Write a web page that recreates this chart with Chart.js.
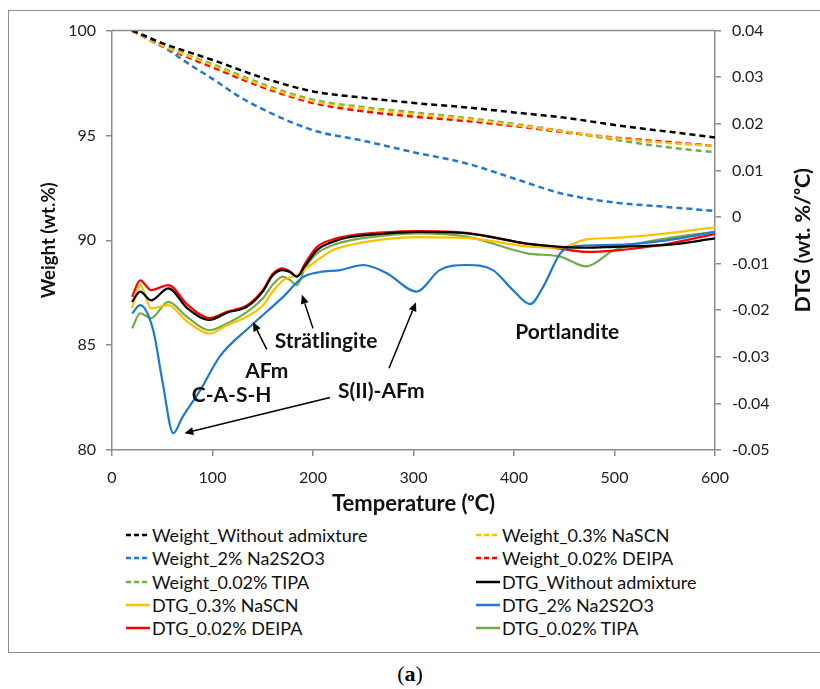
<!DOCTYPE html>
<html>
<head>
<meta charset="utf-8">
<script src="https://cdn.jsdelivr.net/npm/chart.js@4.4.0/dist/chart.umd.min.js"></script>
<style>
  body { margin: 0; background: #fff; width: 820px; height: 689px; overflow: hidden; font-family: Lato, sans-serif; }
  #frame { position: absolute; left: 8px; top: 10px; width: 830px; height: 643px; border: 1.5px solid #8c8c8c; box-sizing: border-box; }
  #wrap { position: absolute; left: 8px; top: 10px; width: 812px; height: 510px; }
  .item { position: absolute; height: 22px; display: flex; align-items: center; font-size: 18px; color: #111; white-space: nowrap; }
  .item svg { margin-right: 2px; }
  #cap { position: absolute; left: 0; top: 661px; width: 820px; text-align: center; font-family: "Liberation Serif", serif; font-size: 22px; }
</style>
</head>
<body>
<div id="frame"></div>
<div id="wrap"><canvas id="c" width="812" height="510"></canvas></div>
<div id="legend"></div>
<div id="cap">(<b>a</b>)</div>
<script>
// weight curves (left axis, wt.%)
const wTemp = [20, 50, 100, 150, 200, 250, 300, 350, 400, 450, 500, 550, 600];
const wNone = [100, 99.4, 98.6, 97.75, 97.1, 96.8, 96.55, 96.35, 96.1, 95.85, 95.5, 95.2, 94.9];
const wNascn = [100, 99.28, 98.35, 97.38, 96.63, 96.28, 96.02, 95.8, 95.5, 95.18, 94.87, 94.65, 94.5];
const wDeipa = [100, 99.25, 98.25, 97.3, 96.55, 96.15, 95.9, 95.7, 95.45, 95.15, 94.9, 94.7, 94.5];
const wTipa = [100, 99.3, 98.4, 97.45, 96.7, 96.35, 96.1, 95.85, 95.55, 95.2, 94.8, 94.45, 94.2];
const wTempNa2 = [20, 40, 60, 80, 100, 125, 150, 200, 250, 300, 350, 400, 425, 450, 500, 550, 600];
const wNa2 = [100, 99.6, 98.95, 98.3, 97.7, 96.9, 96.25, 95.25, 94.75, 94.2, 93.7, 92.95, 92.55, 92.2, 91.8, 91.6, 91.4];

// DTG curves (right axis, wt.%/oC)
const dTemp = [20, 28, 39, 56, 75, 97, 115, 134, 150, 160, 170, 177, 184, 192, 204, 220, 237, 270, 303, 353, 413, 446, 472, 500, 552, 600];
const dNone = [-0.0182, -0.016, -0.0179, -0.0153, -0.0196, -0.0221, -0.0205, -0.0193, -0.016, -0.0125, -0.0114, -0.0118, -0.0128, -0.0105, -0.0071, -0.0053, -0.0043, -0.0036, -0.0032, -0.0035, -0.0057, -0.0064, -0.0066, -0.0064, -0.006, -0.0046];
const dNascn = [-0.0195, -0.0146, -0.0196, -0.0189, -0.0225, -0.025, -0.0232, -0.0214, -0.019, -0.016, -0.0136, -0.013, -0.0125, -0.0112, -0.0093, -0.0071, -0.006, -0.0048, -0.0043, -0.0045, -0.0063, -0.0066, -0.0048, -0.0045, -0.0035, -0.0022];
const dDeipa = [-0.0171, -0.0136, -0.0157, -0.0146, -0.0188, -0.0217, -0.0203, -0.019, -0.0157, -0.0122, -0.011, -0.0117, -0.0128, -0.01, -0.0064, -0.0048, -0.004, -0.0033, -0.003, -0.0034, -0.0058, -0.0068, -0.0075, -0.0072, -0.0058, -0.0036];
const dTipa = [-0.0239, -0.0207, -0.0217, -0.0182, -0.0215, -0.0243, -0.0228, -0.0204, -0.0175, -0.0145, -0.0128, -0.0135, -0.0146, -0.011, -0.0078, -0.006, -0.005, -0.004, -0.0035, -0.0042, -0.0078, -0.0085, -0.0106, -0.0071, -0.0046, -0.0032];
const dTempNa2 = [20, 28, 41, 50, 61, 70, 88, 107, 137, 170, 190, 207, 227, 250, 273, 303, 326, 353, 379, 399, 416, 429, 446, 456, 499, 552, 600];
const dNa2 = [-0.0207, -0.0189, -0.0243, -0.035, -0.0464, -0.043, -0.0371, -0.03, -0.0236, -0.0172, -0.0129, -0.0118, -0.0114, -0.0103, -0.012, -0.016, -0.0114, -0.0103, -0.0114, -0.0157, -0.0187, -0.015, -0.0078, -0.0064, -0.006, -0.005, -0.0032];

const colBlack = "#000000", colYellow = "#ffc000", colBlue = "#1f78d1", colRed = "#ff0000", colGreen = "#70ad47";

function pts(xs, ys) { return xs.map((x, i) => ({ x: x, y: ys[i] })); }

function weight(label, xs, ys, color) {
  return { label, data: pts(xs, ys), borderColor: color, borderWidth: 2.5, borderDash: [6, 4], yAxisID: "y", dashed: true };
}
function dtg(label, xs, ys, color) {
  return { label, data: pts(xs, ys), borderColor: color, borderWidth: 2.2, yAxisID: "y1", dashed: false };
}

const datasets = [
  weight("Weight_Without admixture", wTemp, wNone, colBlack),
  weight("Weight_0.3% NaSCN", wTemp, wNascn, colYellow),
  weight("Weight_2% Na2S2O3", wTempNa2, wNa2, colBlue),
  weight("Weight_0.02% DEIPA", wTemp, wDeipa, colRed),
  weight("Weight_0.02% TIPA", wTemp, wTipa, colGreen),
  dtg("DTG_Without admixture", dTemp, dNone, colBlack),
  dtg("DTG_0.3% NaSCN", dTemp, dNascn, colYellow),
  dtg("DTG_2% Na2S2O3", dTempNa2, dNa2, colBlue),
  dtg("DTG_0.02% DEIPA", dTemp, dDeipa, colRed),
  dtg("DTG_0.02% TIPA", dTemp, dTipa, colGreen),
];

// peak labels, in temperature / left-axis units
const labels = [
  { text: "C-A-S-H", x: 119, y: 82.6 },
  { text: "AFm", x: 154, y: 83.75 },
  { text: "Strätlingite", x: 213, y: 85.2 },
  { text: "S(II)-AFm", x: 268, y: 82.8 },
  { text: "Portlandite", x: 453, y: 85.6 },
];
const arrows = [
  [154, 84.8, 140.3, 86.1],
  [200, 85.8, 189, 87.4],
  [217, 82.5, 72, 80.8],
  [275.6, 83.9, 302.5, 87.05],
];

const extras = {
  id: "extras",
  afterDatasetsDraw(chart) {
    const { ctx, chartArea: a, scales } = chart;
    const sx = scales.x, sy = scales.y;
    ctx.save();
    ctx.strokeStyle = "#8c8c8c";
    ctx.lineWidth = 1.5;
    ctx.beginPath();
    ctx.moveTo(a.left, a.top);
    ctx.lineTo(a.right, a.top);
    ctx.stroke();

    ctx.fillStyle = "#111";
    ctx.font = "bold 21px Lato";
    ctx.textAlign = "center";
    ctx.textBaseline = "middle";
    labels.forEach(l => ctx.fillText(l.text, sx.getPixelForValue(l.x), sy.getPixelForValue(l.y)));

    ctx.strokeStyle = "#000";
    ctx.fillStyle = "#000";
    ctx.lineWidth = 1.5;
    arrows.forEach(([x0, y0, x1, y1]) => {
      const px0 = sx.getPixelForValue(x0), py0 = sy.getPixelForValue(y0);
      const px1 = sx.getPixelForValue(x1), py1 = sy.getPixelForValue(y1);
      const ang = Math.atan2(py1 - py0, px1 - px0);
      const hl = 9, hw = 4;
      const bx = px1 - hl * Math.cos(ang), by = py1 - hl * Math.sin(ang);
      ctx.beginPath();
      ctx.moveTo(px0, py0);
      ctx.lineTo(bx, by);
      ctx.stroke();
      ctx.beginPath();
      ctx.moveTo(px1, py1);
      ctx.lineTo(bx + hw * Math.sin(ang), by - hw * Math.cos(ang));
      ctx.lineTo(bx - hw * Math.sin(ang), by + hw * Math.cos(ang));
      ctx.closePath();
      ctx.fill();
    });

    // axis titles
    ctx.fillStyle = "#111";
    ctx.font = "bold 22px Lato";
    ctx.fillText("Temperature (ᵒC)", (a.left + a.right) / 2, 494);
    ctx.save();
    ctx.translate(41, (a.top + a.bottom) / 2);
    ctx.rotate(-Math.PI / 2);
    ctx.font = "bold 18.6px Lato";
    ctx.fillText("Weight (wt.%)", 0, 0);
    ctx.restore();
    ctx.save();
    ctx.translate(795, (a.top + a.bottom) / 2);
    ctx.rotate(-Math.PI / 2);
    ctx.font = "bold 21.5px Lato";
    ctx.fillText("DTG (wt. %/ᵒC)", 0, 0);
    ctx.restore();
    ctx.restore();
  }
};

const axisGrid = { drawOnChartArea: false, drawTicks: true, tickLength: 6, color: "#8c8c8c", lineWidth: 1.5 };
const axisBorder = { color: "#8c8c8c", width: 1.5 };
const tickFont = { family: "Lato", size: 16 };

new Chart(document.getElementById("c"), {
  type: "line",
  data: { datasets },
  options: {
    responsive: false,
    animation: false,
    layout: { padding: { top: 20, left: 0, right: 0, bottom: 0 } },
    elements: { point: { radius: 0 }, line: { cubicInterpolationMode: "monotone" } },
    plugins: { legend: { display: false }, tooltip: { enabled: false } },
    scales: {
      x: {
        type: "linear", min: 0, max: 600,
        ticks: { stepSize: 100, color: "#222", font: tickFont, padding: 12 },
        grid: axisGrid, border: axisBorder,
        afterFit: s => { s.height = 70; }
      },
      y: {
        position: "left", min: 80, max: 100,
        ticks: { stepSize: 5, color: "#222", font: tickFont, padding: 10 },
        grid: axisGrid, border: axisBorder,
        afterFit: s => { s.width = 104; }
      },
      y1: {
        position: "right", min: -0.05, max: 0.04,
        ticks: { stepSize: 0.01, color: "#222", font: tickFont, padding: 11,
          callback: v => { const r = Math.round(v * 100) / 100; return r === 0 ? "0" : r.toFixed(2); } },
        grid: axisGrid, border: axisBorder,
        afterFit: s => { s.width = 105; }
      }
    }
  },
  plugins: [extras]
});

// two-column legend below the chart
const legend = document.getElementById("legend");
datasets.forEach((d, i) => {
  const row = Math.floor(i / 2), col = i % 2;
  const el = document.createElement("div");
  el.className = "item";
  el.style.left = (col ? 476 : 126) + "px";
  el.style.top = (524 + row * 23.3) + "px";
  const dash = d.dashed ? 'stroke-dasharray="5,3"' : "";
  el.innerHTML = '<svg width="24" height="6"><line x1="0" y1="3" x2="24" y2="3" stroke="' + d.borderColor +
    '" stroke-width="2.5" ' + dash + '/></svg>' + d.label;
  legend.appendChild(el);
});
</script>
</body>
</html>
